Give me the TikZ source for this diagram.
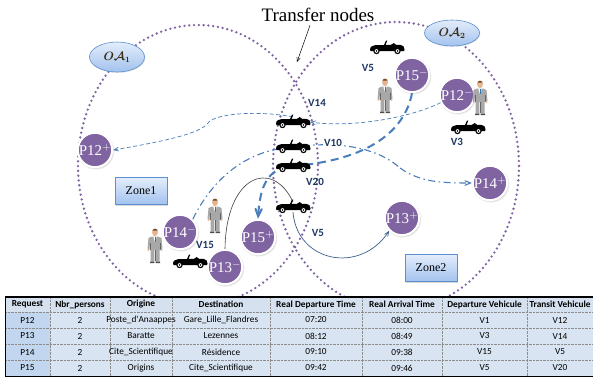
\documentclass[tikz,border=0pt]{standalone}
\usepackage{fontspec}
\setmainfont{Liberation Serif}
\newfontfamily\calib{Carlito}
\usetikzlibrary{arrows,shapes.geometric,positioning,calc,shadows}

\definecolor{zonepurple}{HTML}{8064A2}
\definecolor{linkblue}{HTML}{4A7EBB}
\definecolor{darklink}{HTML}{3B5E8C}
\definecolor{vnavy}{HTML}{1F3864}
\definecolor{suitgrey}{HTML}{A8A8A8}
\definecolor{skin}{HTML}{E6B48F}
\definecolor{hair}{HTML}{7A4A1E}
\definecolor{tieblue}{HTML}{2E75B6}
\definecolor{boxtop}{HTML}{E3EDFB}
\definecolor{boxbot}{HTML}{A3C2EE}
\definecolor{boxedge}{HTML}{5B8FD0}
\definecolor{hdrfill}{HTML}{D6E1EF}
\definecolor{cellfill}{HTML}{D9E4F2}
\definecolor{reqfill}{HTML}{C3D6EF}
\definecolor{oatext}{HTML}{3D2E14}

\begin{document}
\begin{tikzpicture}[x=1pt,y=-1pt,>=angle 45]
  \tikzset{zone/.style={zonepurple, line width=2.6pt, dash pattern=on 0pt off 4.8pt, line cap=round},
    req/.style={circle, fill=zonepurple, draw=white, line width=2pt,
      minimum size=34pt, inner sep=0pt, text=white,
      font=\fontsize{15}{15}\selectfont,
      circular drop shadow={shadow xshift=0.6pt, shadow yshift=-0.8pt, opacity=0.35}},
    zonebox/.style={rectangle, draw=boxedge, line width=0.6pt,
      top color=boxtop, bottom color=boxbot,
      minimum width=52pt, minimum height=27pt,
      font=\fontsize{12}{12}\selectfont,
      drop shadow={shadow xshift=1pt, shadow yshift=-1pt, opacity=0.3}},
    oa/.style={ellipse, draw=boxedge, line width=0.6pt,
      top color=boxtop, bottom color=boxbot, inner sep=0pt,
      text=oatext, font=\fontsize{12}{12}\selectfont\boldmath,
      drop shadow={shadow xshift=0.8pt, shadow yshift=-0.8pt, opacity=0.25}},
    vlabel/.style={text=vnavy, font=\calib\bfseries\fontsize{11}{11}\selectfont, inner sep=1pt},
    carspot/.style={rectangle, minimum width=34pt, minimum height=10pt, inner sep=0pt},
    thinlink/.style={linkblue, line width=0.7pt, dash pattern=on 4pt off 2.5pt},
    dotlink/.style={linkblue, line width=1.1pt, dash pattern=on 7pt off 3.5pt on 1.5pt off 3.5pt},
    thicklink/.style={linkblue, line width=2pt, dash pattern=on 8pt off 5pt},
    arcline/.style={black!75, line width=0.6pt},
    hdr/.style={font=\calib\bfseries\fontsize{9.3}{10}\selectfont, inner sep=0pt},
    cell/.style={font=\calib\fontsize{9.3}{10}\selectfont, inner sep=0pt},
    car/.pic={
      \fill (-17,1.5) .. controls (-17,-1.5) and (-14,-3) .. (-9,-3) -- (-3,-3)
        -- (-1,-7.5) -- (0.3,-7.5) -- (-1.5,-3) -- (4,-3.2)
        .. controls (5.5,-5.5) and (8,-5.5) .. (9,-3.2) -- (13,-3.2)
        .. controls (16,-3) and (17.5,-1.5) .. (17.5,1.5) -- (17,3) -- (-16.5,3) -- cycle;
      \draw[fill=white, line width=1.1pt] (-10.5,3) circle (2.6) (10.5,3) circle (2.6);
      \fill (-10.5,3) circle (0.9) (10.5,3) circle (0.9);
    },
    man/.pic={
      \fill[suitgrey] (-4.5,4) rectangle (-0.6,16.5) (0.6,4) rectangle (4.5,16.5);
      \fill[black!70] (-5,16.5) rectangle (-0.6,18) (0.6,16.5) rectangle (5,18);
      \fill[suitgrey] (-3,-8.5) -- (3,-8.5) -- (6.5,-7) -- (7.5,4) -- (5.5,4.5) -- (5,-2)
        -- (4.8,5) -- (-4.8,5) -- (-5,-2) -- (-5.5,4.5) -- (-7.5,4) -- (-6.5,-7) -- cycle;
      \draw[suitgrey!60!black, line width=0.3pt] (-5,-2) -- (-5,4.5) (5,-2) -- (5,4.5) (0,5) -- (0,16);
      \fill[white] (-1.7,-8.5) -- (1.7,-8.5) -- (0,-2.5) -- cycle;
      \draw[tieblue, line width=0.9pt] (0,-8) -- (0,-3);
      \fill[skin] (0,-12.3) ellipse (2.8 and 3.4);
      \fill[skin] (-6.5,4.9) circle (1.1) (6.5,4.9) circle (1.1);
      \fill[hair] (-3,-12.8) .. controls (-3.2,-17.5) and (3.2,-17.5) .. (3,-12.8)
        -- (2.5,-14.3) -- (-2.5,-14.3) -- cycle;
    }}

  \fill[white] (0,0) rectangle (593,378);
  \useasboundingbox (0,0) rectangle (593,378);

  \draw[zone] (198,165) ellipse [x radius=120, y radius=140];
  \draw[zone] (396,166) ellipse [x radius=123, y radius=144];

  \node[font=\fontsize{19}{20}\selectfont] (title) at (318,15) {Transfer nodes};
  \coordinate (lens) at (297,62);
  \draw[->, line width=0.5pt] ([xshift=-8pt]title.south) -- (lens);

  \node[oa, minimum width=55pt, minimum height=30pt] (oa1) at (117,57) {$O\mathcal{A}_1$};
  \node[oa, minimum width=55pt, minimum height=26pt] (oa2) at (452,33) {$O\mathcal{A}_2$};

  \node[zonebox] (zone1) at (141,191) {Zone1};
  \node[zonebox] (zone2) at (431,268) {Zone2};

  \node[carspot] (tn1) at (293,122) {};
  \node[carspot] (tn2) at (293,147) {};
  \node[carspot] (tn3) at (293,166) {};
  \node[carspot] (tn4) at (293,207) {};
  \node[carspot] (cv5) at (387,48) {};
  \node[carspot] (cv3) at (468,128) {};
  \node[carspot] (cv15) at (190,262) {};

  \node[req] (p15m) at (412,75) {P15$^{-}$};
  \node[req] (p12m) at (457,95) {P12$^{-}$};
  \node[req] (p12p) at (95,150) {P12$^{+}$};
  \node[req] (p14p) at (490,183) {P14$^{+}$};
  \node[req] (p13p) at (402,218) {P13$^{+}$};
  \node[req] (p14m) at (180,232) {P14$^{-}$};
  \node[req] (p13m) at (225,267) {P13$^{-}$};
  \node[req] (p15p) at (258,237) {P15$^{+}$};

  \draw[thinlink, ->] (p12m.205) .. controls (410,118) and (350,128) .. (tn1.east);
  \draw[thinlink, ->] (tn1.north) .. controls (255,110) and (214,114) .. (208,123)
    .. controls (200,134) and (160,142) .. (p12p.east);
  \draw[dotlink] (p14m.north east) .. controls (212,180) and (245,150) .. (tn2.center)
    .. controls (345,140) and (380,150) .. (400,168);
  \draw[dotlink, ->] (400,168) .. controls (420,182) and (440,183) .. (p14p.west);
  \draw[thicklink, ->] (p15m.south) .. controls (405,130) and (370,160) .. (tn3.center)
    .. controls (268,168) and (260,185) .. (p15p.north);
  \draw[arcline] (p13m.north) .. controls (226,175) and (272,158) .. (tn4.north);
  \draw[darklink, line width=0.7pt, ->] (tn4.south) .. controls (297,262) and (360,275) .. (p13p.south west);

  \foreach \c in {tn1,tn2,tn3,tn4,cv5,cv3,cv15}
    \pic at (\c) {car};

  \node[vlabel] (v14) at (317,103) {V14};
  \node[vlabel, fill=white] (v10) at (333,143) {V10};
  \node[vlabel] (v20) at (315,182) {V20};
  \node[vlabel] (v5b) at (318,233) {V5};
  \node[vlabel] (v5t) at (368,68) {V5};
  \node[vlabel] (v3) at (457,142) {V3};
  \node[vlabel] (v15) at (205,245) {V15};

  \pic at (385,95) {man};
  \pic at (480,97) {man};
  \pic at (215,215) {man};
  \pic at (155,245) {man};

  \fill[hdrfill] (5,297) rectangle (593,312);
  \fill[cellfill] (5,312) rectangle (593,376);
  \fill[reqfill] (5,312) rectangle (50,376);
  \foreach \y in {312,328,344,360}
    \draw[black!45, line width=0.4pt, densely dotted] (5,\y) -- (593,\y);
  \foreach \x in {50,110,172,270,362,442,527}
    \draw[black!45, line width=0.4pt, densely dotted] (\x,297) -- (\x,376);
  \draw[line width=1.2pt] (5,297) -- (593,297);
  \draw[line width=0.8pt] (5,297) -- (5,376) -- (593,376);

  \foreach \t/\x [count=\i] in {Request/27.5, Nbr\_persons/80, Origine/141,
      Destination/221, Real Departure Time/316, Real Arrival Time/402,
      Departure Vehicule/484.5, Transit Vehicule/560}
    \node[hdr] (h\i) at (\x,304.5) {\t};

  \foreach \a/\b/\c/\d/\e/\f/\g/\h [count=\j] in {
      P12/2/Poste\_d'Anaappes/Gare\_Lille\_Flandres/07:20/08:00/V1/V12,
      P13/2/Baratte/Lezennes/08:12/08:49/V3/V14,
      P14/2/Cite\_Scientifique/Résidence/09:10/09:38/V15/V5,
      P15/2/Origins/Cite\_Scientifique/09:42/09:46/V5/V20} {
    \node[cell] (row\j-1) at (27.5,{304+16*\j}) {\a};
    \node[cell] (row\j-2) at (80,{304+16*\j}) {\b};
    \node[cell] (row\j-3) at (141,{304+16*\j}) {\c};
    \node[cell] (row\j-4) at (221,{304+16*\j}) {\d};
    \node[cell] (row\j-5) at (316,{304+16*\j}) {\e};
    \node[cell] (row\j-6) at (402,{304+16*\j}) {\f};
    \node[cell] (row\j-7) at (484.5,{304+16*\j}) {\g};
    \node[cell] (row\j-8) at (560,{304+16*\j}) {\h};
  }
\end{tikzpicture}
\end{document}
